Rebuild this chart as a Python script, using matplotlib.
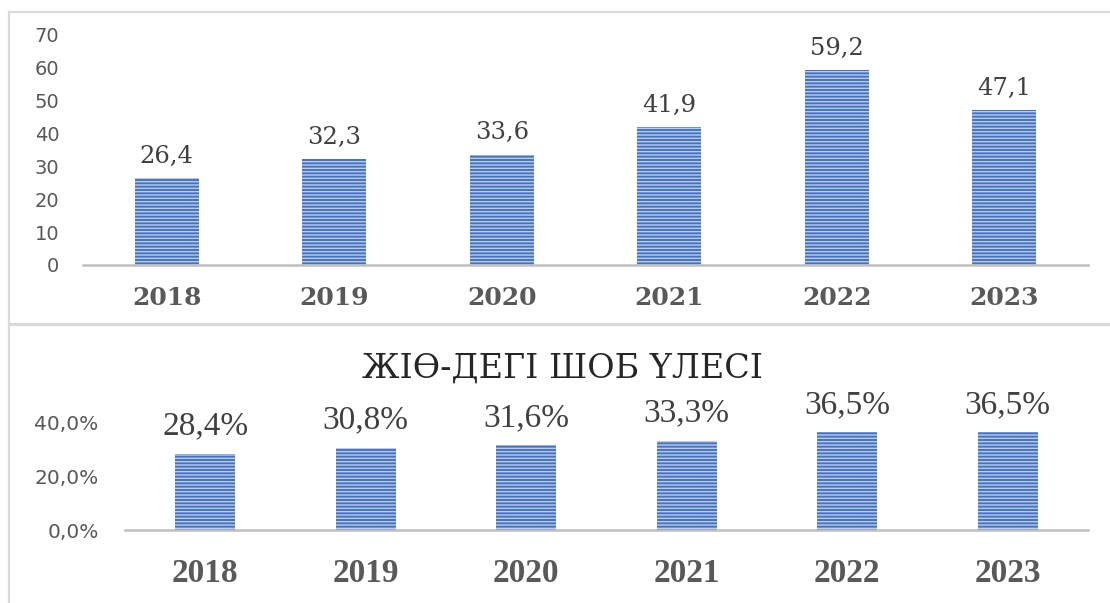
import matplotlib
matplotlib.use('Agg')
import matplotlib.pyplot as plt
from matplotlib.patches import Rectangle

years = ['2018', '2019', '2020', '2021', '2022', '2023']
top_values = [26.4, 32.3, 33.6, 41.9, 59.2, 47.1]
share_values = [28.4, 30.8, 31.6, 33.3, 36.5, 36.5]
top_yticks = [0, 10, 20, 30, 40, 50, 60, 70]
share_yticks = [0, 20, 40]
share_title = 'ЖІӨ-ДЕГІ ШОБ ҮЛЕСІ'

W, H = 1110, 603
plt.rcParams['hatch.linewidth'] = 1.0

BAR = '#4472C4'
STRIPE = '#BCCDEB'
AXIS = '#BFBFBF'
TICK = '#595959'
LABEL = '#404040'
BOX = '#D9D9D9'

fig = plt.figure(figsize=(W / 100, H / 100), dpi=100)

# panel frames
fig.add_artist(Rectangle((9 / W, (H - 324) / H), 1.2, (324 - 12) / H,
                         fill=False, edgecolor=BOX, lw=1.6,
                         transform=fig.transFigure, clip_on=False))
fig.add_artist(Rectangle((9 / W, -0.5), 1.2, 0.5 + (H - 325) / H,
                         fill=False, edgecolor=BOX, lw=1.6,
                         transform=fig.transFigure, clip_on=False))


def style_axes(ax):
    for s in ['top', 'right', 'left']:
        ax.spines[s].set_visible(False)
    ax.spines['bottom'].set_color(AXIS)
    ax.spines['bottom'].set_linewidth(1.8)
    ax.tick_params(length=0)
    ax.set_xlim(-0.5, len(years) - 0.5)
    ax.set_facecolor('none')


# ---- top panel ----
ax1 = fig.add_axes([83 / W, (H - 265) / H, 1005 / W, 230 / H])
style_axes(ax1)
x = list(range(len(years)))
ax1.bar(x, top_values, width=0.38, color=BAR, edgecolor=STRIPE, lw=0,
        hatch='-----')
ax1.set_ylim(0, 70)
ax1.set_yticks(top_yticks)
ax1.set_yticklabels([str(t) for t in top_yticks], fontsize=14,
                    color=TICK, family='DejaVu Sans')
ax1.tick_params(axis='y', pad=17)
ax1.set_xticks(x)
ax1.set_xticklabels(years, fontsize=18, fontweight='bold', color=TICK,
                    family='DejaVu Serif')
ax1.tick_params(axis='x', pad=15)
for xi, v in zip(x, top_values):
    ax1.annotate(f'{v:.1f}'.replace('.', ','), (xi, v), xytext=(0, 11),
                 textcoords='offset points', ha='center', va='baseline',
                 fontsize=17.5, color=LABEL, family='DejaVu Serif')

# ---- bottom panel ----
ax2 = fig.add_axes([125 / W, (H - 530) / H, 963 / W, 107 / H])
style_axes(ax2)
ax2.bar(x, share_values, width=0.374, color=BAR, edgecolor=STRIPE, lw=0,
        hatch='-----')
ax2.set_ylim(0, 40)
ax2.set_yticks(share_yticks)
ax2.set_yticklabels([f'{t:.1f}%'.replace('.', ',') for t in share_yticks],
                    fontsize=14.5, color=TICK, family='DejaVu Sans')
ax2.tick_params(axis='y', pad=19)
ax2.set_xticks(x)
ax2.set_xticklabels(years, fontsize=24, fontweight='bold', color=TICK,
                    family=['Liberation Serif', 'DejaVu Serif'])
ax2.tick_params(axis='x', pad=20)
for xi, v in zip(x, share_values):
    ax2.annotate(f'{v:.1f}%'.replace('.', ','), (xi, v), xytext=(0, 14),
                 textcoords='offset points', ha='center', va='baseline',
                 fontsize=24, color=LABEL,
                 family=['Liberation Serif', 'DejaVu Serif'])

fig.text(562 / W, (H - 369) / H, share_title, ha='center', va='center',
         fontsize=24, color='#262626', family=['DejaVu Serif'])

fig.savefig('out.png', dpi=100)
